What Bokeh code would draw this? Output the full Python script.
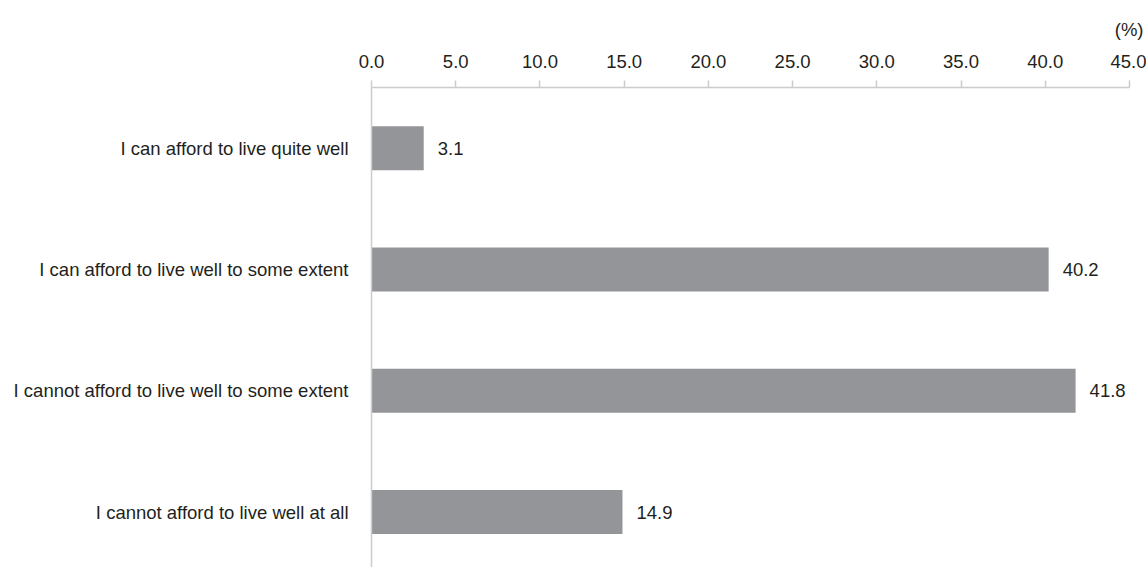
from bokeh.plotting import figure
from bokeh.models import Range1d, FixedTicker, Title, ColumnDataSource
from bokeh.core.properties import value
from bokeh.embed import file_html
from bokeh.resources import INLINE

# Survey answers (top to bottom) and their shares in percent
categories = [
    "I can afford to live quite well",
    "I can afford to live well to some extent",
    "I cannot afford to live well to some extent",
    "I cannot afford to live well at all",
]
shares = [3.1, 40.2, 41.8, 14.9]
x_ticks = [0, 5, 10, 15, 20, 25, 30, 35, 40, 45]

FONT = "Liberation Sans"
FS = "18.5px"
TEXT = "#231f20"
AXIS = "#cccccc"
BAR = "#939598"

positions = list(range(len(categories)))
src = ColumnDataSource(dict(
    y=positions,
    share=shares,
    label=[f"{v:.1f}" for v in shares],
))

p = figure(
    width=1146, height=567,
    x_range=Range1d(0, 45),
    y_range=Range1d(3.457, -0.5),
    x_axis_location="above",
    output_backend="svg", toolbar_location=None,
    min_border_left=371, min_border_right=17,
    min_border_top=87, min_border_bottom=0,
)
p.outline_line_color = None
p.grid.visible = False

p.hbar(y="y", left=0, right="share", height=0.363, source=src,
       fill_color=BAR, line_color=None)

p.text(x="share", y="y", text="label", source=src, x_offset=14,
       text_baseline="middle", text_align="left",
       text_font=value(FONT), text_font_size=FS, text_color=TEXT)

# Top value axis
xa = p.xaxis[0]
xa.ticker = FixedTicker(ticks=x_ticks)
xa.major_label_overrides = {t: f"{t:.1f}" for t in x_ticks}
xa.axis_line_color = AXIS
xa.axis_line_width = 1.5
xa.major_tick_line_color = AXIS
xa.major_tick_line_width = 1.5
xa.major_tick_out = 7
xa.major_tick_in = 0
xa.minor_tick_line_color = None
xa.major_label_standoff = 13
xa.major_label_text_font = FONT
xa.major_label_text_font_size = FS
xa.major_label_text_color = TEXT

# Category axis on the left
ya = p.yaxis[0]
ya.ticker = FixedTicker(ticks=positions)
ya.major_label_overrides = {i: c for i, c in zip(positions, categories)}
ya.axis_line_color = AXIS
ya.axis_line_width = 1.5
ya.major_tick_line_color = None
ya.minor_tick_line_color = None
ya.major_tick_out = 0
ya.major_tick_in = 0
ya.major_label_standoff = 23
ya.major_label_text_font = FONT
ya.major_label_text_font_size = FS
ya.major_label_text_color = TEXT

# Unit note above the scale, at its right end
p.add_layout(Title(text="(%)", align="right", offset=-14, standoff=24,
                   text_font=FONT, text_font_size=FS, text_color=TEXT,
                   text_font_style="normal"), "above")

open("out.html", "w").write(file_html(p, INLINE))
